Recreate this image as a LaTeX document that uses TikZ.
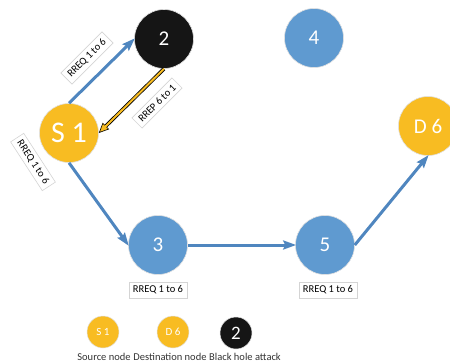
\documentclass[tikz,border=0pt]{standalone}
\usepackage{fontspec}
\setmainfont{Carlito}
\usetikzlibrary{arrows.meta}
\definecolor{gold}{HTML}{F8BC22}
\definecolor{nodeblue}{HTML}{5F9AD0}
\definecolor{arrowblue}{HTML}{4F86BF}
\definecolor{hole}{HTML}{151515}
\definecolor{boxline}{HTML}{D4D4D4}
\tikzset{
  station/.style={circle, minimum size=59pt, inner sep=0pt, text=white,
    draw=black!12, line width=0.6pt, font=\fontsize{21}{21}\selectfont},
  bluest/.style={station, fill=nodeblue},
  goldst/.style={station, fill=gold},
  holest/.style={station, fill=hole},
  keyst/.style={circle, minimum size=32pt, inner sep=0pt, text=white,
    draw=black!12, line width=0.5pt},
  msg/.style={draw=boxline, fill=white, line width=0.6pt, inner xsep=4pt,
    inner ysep=3.6pt, font=\fontsize{10.5}{11}\selectfont},
  keytext/.style={font=\fontsize{10.5}{11}\selectfont, text=black!80},
  flow/.style={draw=arrowblue, line width=3pt,
    -{Stealth[length=13pt,width=9pt,inset=2pt]}, shorten >=-1pt},
}
\begin{document}
\begin{tikzpicture}[x=1pt, y=-1pt]
  \useasboundingbox (0,0) rectangle (450,364);

  % network nodes
  \node[holest] (n2) at (164,39) {2};
  \node[bluest] (n4) at (314,38) {4};
  \node[goldst, font=\fontsize{30}{30}\selectfont] (s1) at (69,133) {S 1};
  \node[goldst] (d6) at (428,126) {D 6};
  \node[bluest] (n3) at (158,245) {3};
  \node[bluest] (n5) at (325,245) {5};

  % route request and reply paths
  \draw[flow] (s1.north) -- (n2.west);
  \draw[line width=3.6pt, black, shorten >=6pt] (n2.south) -- (s1.east);
  \draw[line width=0.6pt, black, shorten <=70pt,
    -{Triangle[length=10pt,width=9pt,fill=gold]}] (n2.south) -- (s1.east);
  \draw[line width=2pt, gold, shorten >=7pt] (n2.south) -- (s1.east);
  \draw[flow] (s1.south) -- (n3.west);
  \draw[flow] (n3.east) -- (n5.west);
  \draw[flow] (n5.east) -- (d6.south);

  % message labels
  \node[msg, rotate=45] (m1) at (87,58) {RREQ 1 to 6};
  \node[msg, rotate=45] (m2) at (157,103) {RREP 6 to 1};
  \node[msg, rotate=-57] (m3) at (33,162) {RREQ 1 to 6};
  \node[msg] (m4) at (158,290) {RREQ 1 to 6};
  \node[msg] (m5) at (328,290) {RREQ 1 to 6};

  % legend
  \node[keyst, fill=gold, font=\fontsize{11}{11}\selectfont] (k1) at (103,332) {S 1};
  \node[keyst, fill=gold, font=\fontsize{11}{11}\selectfont] (k2) at (173,332) {D 6};
  \node[keyst, fill=hole, font=\fontsize{19}{19}\selectfont] (k3) at (236,333) {2};
  \node[keytext] (t1) at (104,357) {Source node};
  \node[keytext] (t2) at (170,357) {Destination node};
  \node[keytext] (t3) at (245,357) {Black hole attack};
\end{tikzpicture}
\end{document}
